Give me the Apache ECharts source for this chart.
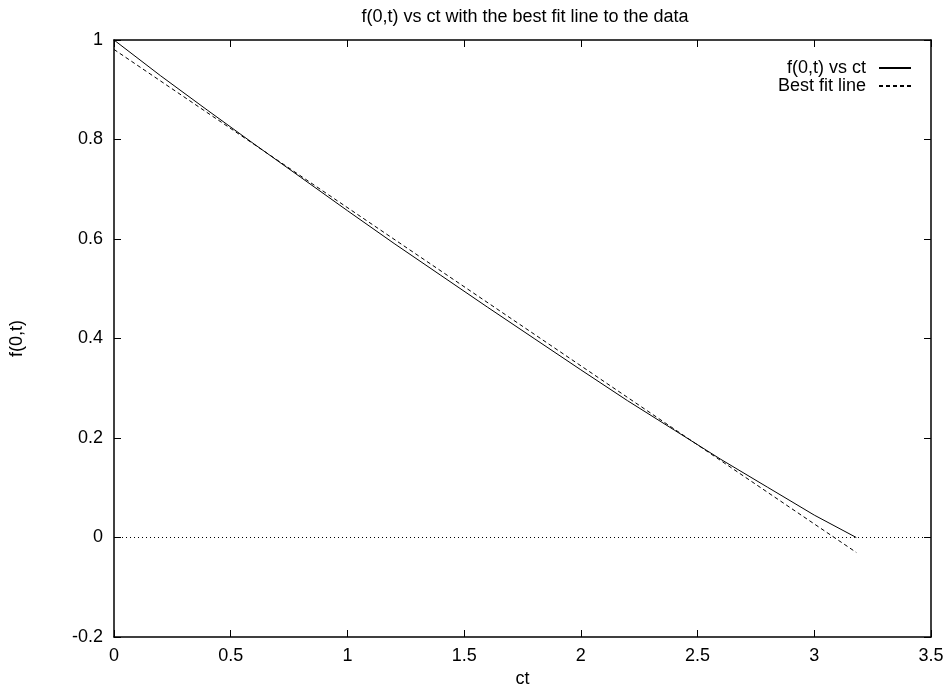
<!DOCTYPE html>
<html><head><meta charset="utf-8">
<script src="https://cdn.jsdelivr.net/npm/echarts@6/dist/echarts.min.js"></script>
<style>html,body{margin:0;padding:0;background:#fff}#c{width:949px;height:687px}</style>
</head><body><div id="c"></div>
<script>
const ctValues = [0, 0.2, 0.4, 0.6, 0.8, 1.0, 1.2, 1.4, 1.6, 1.8, 2.0, 2.2, 2.4, 2.6, 2.8, 3.0, 3.18];
const fValues  = [1.000, 0.928, 0.859, 0.791, 0.724, 0.657, 0.591, 0.527, 0.463, 0.400, 0.337, 0.275, 0.216, 0.157, 0.101, 0.045, 0.000];
const fitCt = [0, 3.18];
const fitValues = [0.981, -0.030];
const xTicks = [0, 0.5, 1, 1.5, 2, 2.5, 3, 3.5];
const yTicks = [-0.2, 0, 0.2, 0.4, 0.6, 0.8, 1];

const font = 'Liberation Sans, Arial, sans-serif';
const FS = 18;
const chart = echarts.init(document.getElementById('c'));
const axBase = {
  axisLine: {show: true, onZero: false, lineStyle: {color: '#000', width: 1.5}},
  axisTick: {show: true, inside: true, length: 7, lineStyle: {color: '#000', width: 1}},
  splitLine: {show: false},
};
const fmt = v => String(+v.toFixed(2));
chart.setOption({
  animation: false,
  backgroundColor: '#fff',
  title: {text: 'f(0,t) vs ct with the best fit line to the data', left: 520, top: 3, textAlign: 'center',
    textStyle: {fontFamily: font, fontSize: FS, fontWeight: 'normal', color: '#000'}},
  grid: {left: 114, right: 18, top: 40, bottom: 50, outerBoundsMode: 'none', containLabel: false},
  legend: {orient: 'vertical', right: 32, top: 54, align: 'right', itemWidth: 32, itemHeight: 10, itemGap: 0,
    itemStyle: {opacity: 0},
    textStyle: {fontFamily: font, fontSize: FS, color: '#000', padding: [0, 8, 0, 0]},
    data: ['f(0,t) vs ct', 'Best fit line']},
  xAxis: [
    Object.assign({}, axBase, {type: 'value', min: 0, max: 3.5, interval: 0.5, position: 'bottom',
      name: 'ct', nameLocation: 'middle', nameGap: 32, nameTextStyle: {fontFamily: font, fontSize: FS, color: '#000'},
      axisLabel: {color: '#000', fontFamily: font, fontSize: FS, margin: 10, formatter: fmt}}),
    Object.assign({}, axBase, {type: 'value', min: 0, max: 3.5, interval: 0.5, position: 'top', axisLabel: {show: false}})
  ],
  yAxis: [
    Object.assign({}, axBase, {type: 'value', min: -0.2, max: 1, interval: 0.2, position: 'left',
      name: 'f(0,t)', nameLocation: 'middle', nameGap: 88, nameRotate: 90, nameTextStyle: {fontFamily: font, fontSize: FS, color: '#000'},
      axisLabel: {color: '#000', fontFamily: font, fontSize: FS, margin: 11, formatter: fmt}}),
    Object.assign({}, axBase, {type: 'value', min: -0.2, max: 1, interval: 0.2, position: 'right', axisLabel: {show: false}})
  ],
  series: [
    {name: 'f(0,t) vs ct', type: 'line', symbol: 'none', smooth: false,
      data: ctValues.map((x, i) => [x, fValues[i]]),
      lineStyle: {color: '#000', width: 1}, itemStyle: {color: '#000'},
      markLine: {silent: true, symbol: 'none', label: {show: false},
        lineStyle: {color: '#000', width: 1, type: [1, 3]}, data: [{yAxis: 0}]}},
    {name: 'Best fit line', type: 'line', symbol: 'none',
      data: fitCt.map((x, i) => [x, fitValues[i]]),
      lineStyle: {color: '#000', width: 1, type: [4, 3]}, itemStyle: {color: '#000'}}
  ]
});
</script></body></html>
